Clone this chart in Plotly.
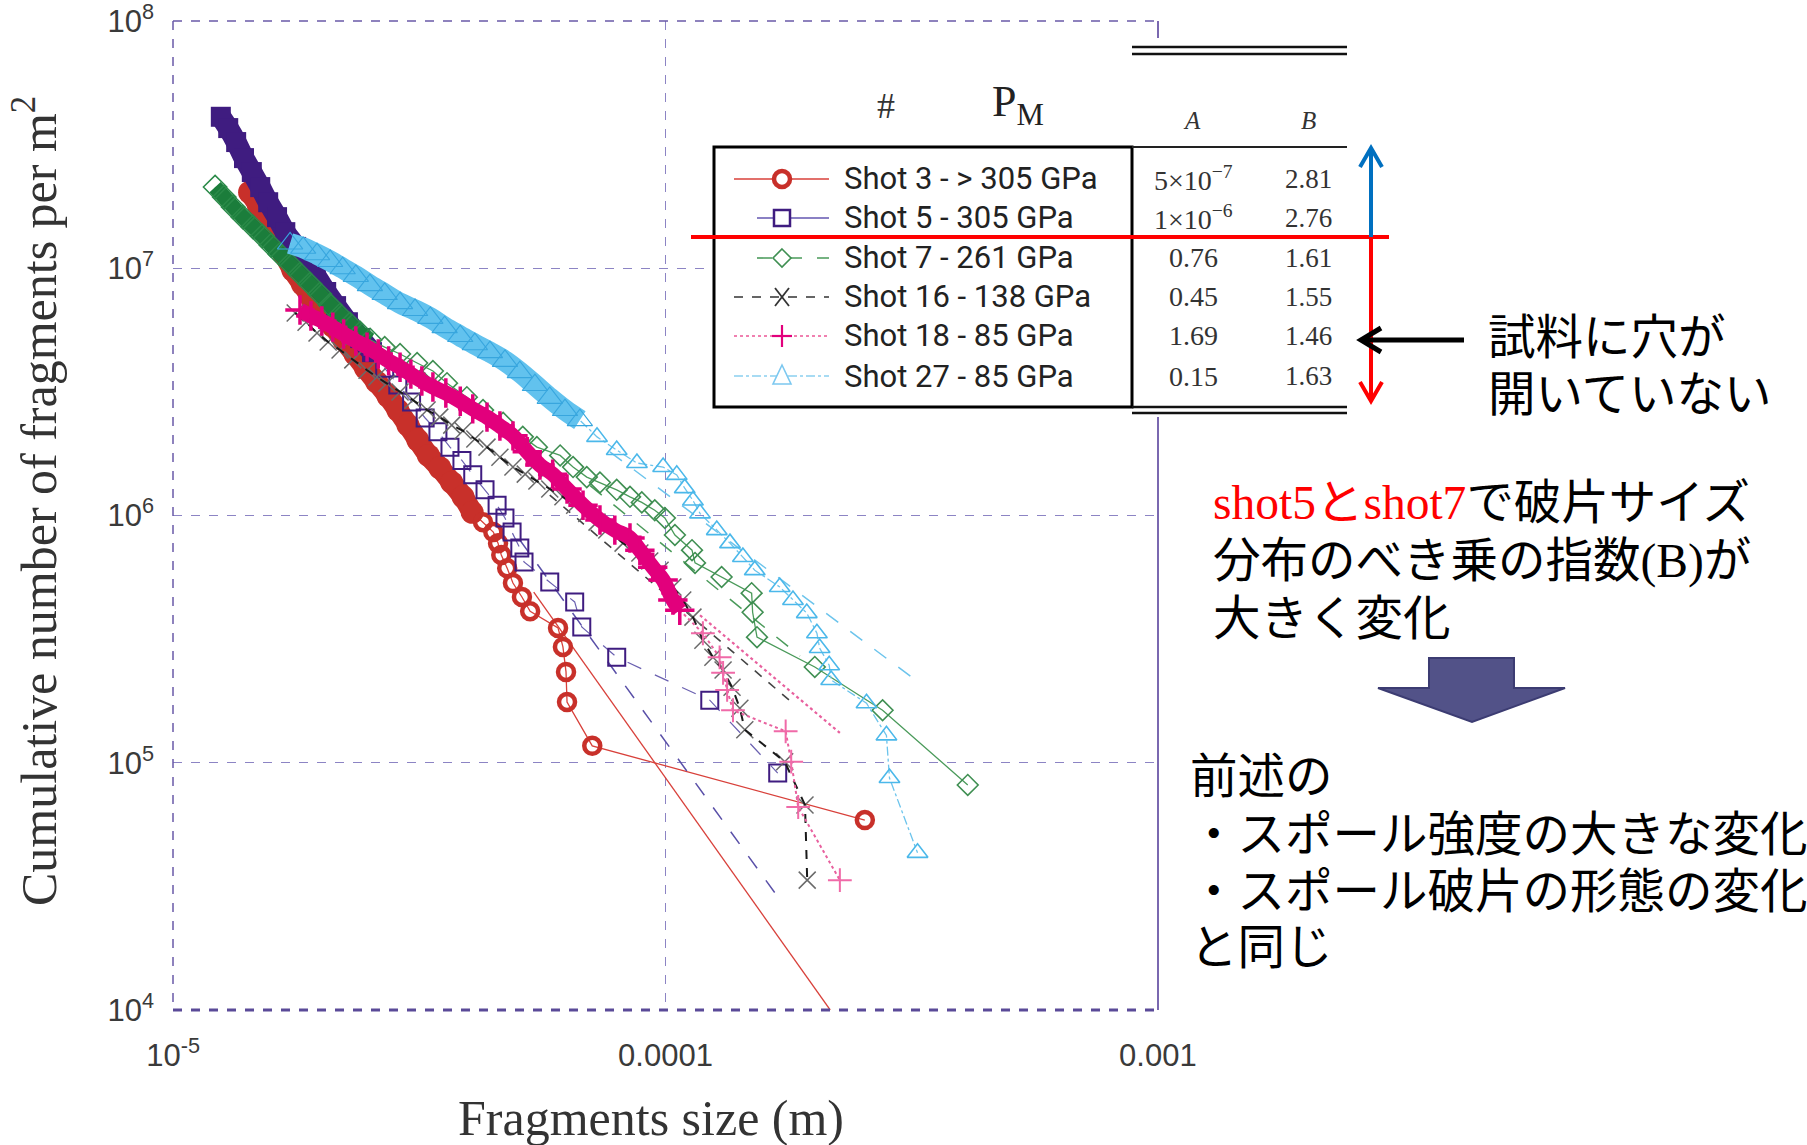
import plotly.graph_objects as go

# ---------------- data ----------------
shot3_dense_x = [1.43e-5, 1.49e-5, 1.545e-5, 1.61e-5, 1.68e-5, 1.75e-5, 1.83e-5, 1.91e-5, 2.0e-5, 2.11e-5,
                 2.22e-5, 2.34e-5, 2.46e-5, 2.59e-5, 2.73e-5, 2.86e-5, 3.0e-5, 3.14e-5, 3.3e-5, 3.48e-5,
                 3.68e-5, 3.88e-5, 4.05e-5]
shot3_dense_y = [2.03e7, 1.80e7, 1.57e7, 1.34e7, 1.14e7, 9.84e6, 8.63e6, 7.58e6, 6.65e6, 5.84e6,
                 5.13e6, 4.50e6, 3.94e6, 3.47e6, 3.04e6, 2.67e6, 2.32e6, 2.02e6, 1.75e6, 1.56e6,
                 1.36e6, 1.19e6, 1.03e6]
shot3_tail_x = [4.26e-5, 4.47e-5, 4.57e-5, 4.64e-5, 4.77e-5, 4.90e-5, 5.11e-5, 5.31e-5, 6.05e-5, 6.19e-5,
                6.28e-5, 6.31e-5, 7.10e-5, 2.54e-4]
shot3_tail_y = [9.40e5, 8.57e5, 7.73e5, 6.92e5, 6.12e5, 5.33e5, 4.68e5, 4.10e5, 3.51e5, 2.94e5,
                2.33e5, 1.76e5, 1.17e5, 5.86e4]
fit3_x = [5.4e-5, 2.16e-4]
fit3_y = [4.9e5, 1.0e4]

shot5_dense_x = [1.25e-5, 1.294e-5, 1.343e-5, 1.393e-5, 1.445e-5, 1.503e-5, 1.56e-5, 1.626e-5, 1.69e-5,
                 1.778e-5, 1.862e-5, 1.95e-5, 2.046e-5, 2.143e-5, 2.265e-5, 2.399e-5, 2.535e-5]
shot5_dense_y = [4.1e7, 3.69e7, 3.24e7, 2.79e7, 2.45e7, 2.13e7, 1.85e7, 1.61e7, 1.40e7,
                 1.22e7, 1.06e7, 9.31e6, 8.02e6, 7.03e6, 6.05e6, 5.22e6, 4.58e6]
shot5_tail_x = [2.69e-5, 2.86e-5, 3.05e-5, 3.25e-5, 3.45e-5, 3.65e-5, 3.86e-5, 4.06e-5, 4.30e-5, 4.55e-5,
                4.72e-5, 4.88e-5, 5.06e-5, 5.16e-5, 5.82e-5, 6.54e-5, 6.76e-5, 7.96e-5, 1.23e-4, 1.69e-4]
shot5_tail_y = [3.94e6, 3.37e6, 2.88e6, 2.48e6, 2.18e6, 1.89e6, 1.67e6, 1.46e6, 1.27e6, 1.10e6,
                9.77e5, 8.57e5, 7.38e5, 6.49e5, 5.38e5, 4.47e5, 3.54e5, 2.67e5, 1.79e5, 9.08e4]
fit5_x = [5.06e-5, 1.69e-4]
fit5_y = [7.96e5, 2.87e4]

shot7_dense_x = [1.217e-5, 1.27e-5, 1.324e-5, 1.387e-5, 1.453e-5, 1.517e-5, 1.581e-5, 1.648e-5, 1.728e-5,
                 1.81e-5, 1.897e-5, 1.986e-5, 2.084e-5, 2.183e-5, 2.286e-5, 2.399e-5, 2.512e-5]
shot7_dense_y = [2.13e7, 1.94e7, 1.77e7, 1.61e7, 1.47e7, 1.35e7, 1.24e7, 1.14e7, 1.04e7,
                 9.48e6, 8.63e6, 7.87e6, 7.10e6, 6.47e6, 5.95e6, 5.47e6, 5.13e6]
shot7_tail_x = [2.69e-5, 2.89e-5, 3.13e-5, 3.37e-5, 3.60e-5, 3.95e-5, 4.26e-5, 4.68e-5, 5.13e-5, 5.48e-5,
                6.11e-5, 6.49e-5, 6.92e-5, 7.36e-5, 7.96e-5, 8.47e-5, 8.95e-5, 9.51e-5, 9.97e-5, 1.045e-4,
                1.132e-4, 1.148e-4, 1.30e-4, 1.496e-4, 1.503e-4, 1.534e-4, 2.01e-4, 2.76e-4, 4.11e-4]
shot7_tail_y = [4.80e6, 4.50e6, 4.14e6, 3.84e6, 3.43e6, 3.01e6, 2.67e6, 2.37e6, 2.08e6, 1.89e6,
                1.75e6, 1.57e6, 1.43e6, 1.36e6, 1.27e6, 1.19e6, 1.13e6, 1.05e6, 9.77e5, 8.34e5,
                7.24e5, 6.43e5, 5.64e5, 4.85e5, 4.06e5, 3.22e5, 2.44e5, 1.63e5, 8.13e4]
fit7_x = [7.03e-5, 1.875e-4]
fit7_y = [1.32e6, 2.70e5]

shot16_x = [1.77e-5, 1.862e-5, 1.96e-5, 2.065e-5, 2.183e-5, 2.317e-5, 2.477e-5, 2.594e-5, 2.716e-5, 2.89e-5,
            3.07e-5, 3.28e-5, 3.48e-5, 3.68e-5, 3.88e-5, 4.10e-5, 4.34e-5, 4.61e-5, 4.90e-5, 5.19e-5,
            5.48e-5, 5.82e-5, 6.19e-5, 6.54e-5, 6.92e-5, 7.26e-5, 7.60e-5, 8.20e-5, 8.87e-5, 9.29e-5,
            9.75e-5, 1.035e-4, 1.084e-4, 1.137e-4, 1.191e-4, 1.248e-4, 1.309e-4, 1.365e-4, 1.416e-4, 1.449e-4,
            1.746e-4, 1.92e-4, 1.94e-4]
shot16_y = [6.59e6, 6.05e6, 5.47e6, 5.03e6, 4.67e6, 4.26e6, 3.87e6, 3.63e6, 3.43e6, 3.16e6,
            2.93e6, 2.67e6, 2.50e6, 2.32e6, 2.20e6, 2.04e6, 1.89e6, 1.72e6, 1.57e6, 1.47e6,
            1.38e6, 1.28e6, 1.19e6, 1.10e6, 1.02e6, 9.40e5, 8.73e5, 7.73e5, 7.05e5, 6.54e5,
            6.01e5, 5.14e5, 4.55e5, 3.88e5, 3.13e5, 2.67e5, 2.37e5, 2.02e5, 1.66e5, 1.36e5,
            1.01e5, 6.75e4, 3.35e4]
fit16_x = [5.82e-5, 1.832e-4]
fit16_y = [1.21e6, 1.71e5]

shot18_dense_x = [1.81e-5, 1.905e-5, 2.005e-5, 2.11e-5, 2.22e-5, 2.35e-5, 2.477e-5, 2.61e-5, 2.74e-5, 2.89e-5,
                  3.04e-5, 3.20e-5, 3.37e-5, 3.58e-5, 3.83e-5, 4.06e-5, 4.34e-5, 4.61e-5, 4.90e-5, 5.24e-5,
                  5.56e-5, 5.90e-5, 6.31e-5, 6.80e-5, 7.36e-5, 7.89e-5, 8.47e-5, 8.87e-5, 9.42e-5, 9.89e-5,
                  1.035e-4, 1.069e-4]
shot18_dense_y = [6.78e6, 6.41e6, 6.12e6, 5.78e6, 5.42e6, 5.08e6, 4.80e6, 4.50e6, 4.22e6, 3.98e6,
                  3.73e6, 3.50e6, 3.31e6, 3.13e6, 2.90e6, 2.70e6, 2.50e6, 2.30e6, 2.10e6, 1.81e6,
                  1.60e6, 1.47e6, 1.28e6, 1.10e6, 9.59e5, 8.73e5, 8.11e5, 7.24e5, 6.18e5, 5.48e5,
                  4.55e5, 4.14e5]
shot18_tail_x = [1.191e-4, 1.288e-4, 1.309e-4, 1.334e-4, 1.371e-4, 1.754e-4, 1.80e-4, 1.86e-4, 2.26e-4]
shot18_tail_y = [3.34e5, 2.67e5, 2.31e5, 1.97e5, 1.63e5, 1.34e5, 1.01e5, 6.62e4, 3.35e4]
fit18_x = [1.175e-4, 2.26e-4]
fit18_y = [3.95e5, 1.32e5]

shot27_dense_x = [1.728e-5, 1.837e-5, 1.96e-5, 2.084e-5, 2.21e-5, 2.35e-5, 2.51e-5, 2.69e-5, 2.89e-5, 3.10e-5,
                  3.33e-5, 3.56e-5, 3.83e-5, 4.10e-5, 4.40e-5, 4.72e-5, 5.06e-5, 5.43e-5, 5.82e-5, 6.25e-5,
                  6.70e-5]
shot27_dense_y = [1.26e7, 1.21e7, 1.14e7, 1.07e7, 1.00e7, 9.31e6, 8.55e6, 7.87e6, 7.23e6, 6.78e6,
                  6.30e6, 5.78e6, 5.32e6, 4.93e6, 4.58e6, 4.22e6, 3.80e6, 3.37e6, 2.99e6, 2.67e6,
                  2.43e6]
shot27_tail_x = [7.26e-5, 7.96e-5, 8.75e-5, 9.89e-5, 1.054e-4, 1.094e-4, 1.137e-4, 1.175e-4, 1.271e-4, 1.352e-4,
                 1.436e-4, 1.518e-4, 1.706e-4, 1.815e-4, 1.936e-4, 2.03e-4, 2.056e-4, 2.15e-4, 2.17e-4, 2.56e-4,
                 2.81e-4, 2.85e-4, 3.25e-4]
shot27_tail_y = [2.08e6, 1.84e6, 1.63e6, 1.57e6, 1.46e6, 1.29e6, 1.15e6, 1.02e6, 8.73e5, 7.73e5,
                 6.79e5, 6.01e5, 5.14e5, 4.55e5, 4.03e5, 3.34e5, 2.91e5, 2.48e5, 2.16e5, 1.74e5,
                 1.29e5, 8.67e4, 4.32e4]
fit27_x = [7.71e-5, 3.16e-4]
fit27_y = [1.81e6, 2.22e5]

x_tick_vals = [1e-5, 1e-4, 1e-3]
x_tick_text = ["10<sup>-5</sup>", "0.0001", "0.001"]
y_tick_vals = [1e4, 1e5, 1e6, 1e7, 1e8]
y_tick_text = ["10<sup>4</sup>", "10<sup>5</sup>", "10<sup>6</sup>", "10<sup>7</sup>", "10<sup>8</sup>"]

legend_labels = ["Shot 3 - > 305 GPa", "Shot 5 - 305 GPa", "Shot 7 - 261 GPa",
                 "Shot 16 - 138 GPa", "Shot 18 - 85 GPa", "Shot 27 - 85 GPa"]
table_A = ["5\u00d710<sup>\u22127</sup>", "1\u00d710<sup>\u22126</sup>", "0.76", "0.45", "1.69", "0.15"]
table_B = ["2.81", "2.76", "1.61", "1.55", "1.46", "1.63"]

# ---------------- layout helpers (pixel -> paper) ----------------
W, H = 1807, 1145
PL, PR, PT, PB = 173, 1158, 21, 1010


def fx(p):
    return p / W


def fy(p):
    return 1 - p / H


RED = "#c8302a"
PURPLE = "#3f1c80"
GREEN_D = "#1b7d3b"
GREEN = "#3f8f52"
BLACK = "#4a4a4a"
PINK = "#e2007c"
CYAN = "#4bb8ea"

fig = go.Figure()


def lines(x, y, color, width, dash):
    fig.add_trace(go.Scatter(x=x, y=y, mode="lines", line=dict(color=color, width=width, dash=dash),
                             showlegend=False, hoverinfo="skip"))


def band(x, y, color, width):
    fig.add_trace(go.Scatter(x=x, y=y, mode="lines", line=dict(color=color, width=width, shape="spline"),
                             showlegend=False, hoverinfo="skip"))


def marks(x, y, symbol, size, color, lw, lcolor=None):
    fig.add_trace(go.Scatter(x=x, y=y, mode="markers",
                             marker=dict(symbol=symbol, size=size, color=color,
                                         line=dict(width=lw, color=lcolor or color)),
                             showlegend=False, hoverinfo="skip"))


# Shot 3
lines(fit3_x, fit3_y, "#d8403a", 1.3, "solid")
lines(shot3_dense_x + shot3_tail_x, shot3_dense_y + shot3_tail_y, "#d8403a", 1.3, "solid")
band(shot3_dense_x, shot3_dense_y, RED, 21)
marks(shot3_dense_x, shot3_dense_y, "circle", 23, RED, 0)
marks(shot3_tail_x, shot3_tail_y, "circle-open", 16, RED, 4.5)
# Shot 5
lines(fit5_x, fit5_y, "#5a50a8", 1.5, "longdash")
lines(shot5_dense_x + shot5_tail_x, shot5_dense_y + shot5_tail_y, "#6a60b0", 1.2, "longdash")
band(shot5_dense_x, shot5_dense_y, PURPLE, 21)
marks(shot5_dense_x, shot5_dense_y, "square", 20, PURPLE, 0)
marks(shot5_tail_x, shot5_tail_y, "square-open", 17, PURPLE, 2)
# Shot 7
lines(fit7_x, fit7_y, "#4a9a5a", 1.5, "longdash")
lines(shot7_dense_x + shot7_tail_x, shot7_dense_y + shot7_tail_y, "#4a9a5a", 1.3, "solid")
band(shot7_dense_x, shot7_dense_y, GREEN_D, 15)
marks(shot7_dense_x, shot7_dense_y, "diamond-open", 18, "#2a8a48", 1.5)
marks(shot7_tail_x, shot7_tail_y, "diamond-open", 16, GREEN, 1.6)
# Shot 16
lines(fit16_x, fit16_y, "#444444", 1.6, "dash")
marks(shot16_x, shot16_y, "x-thin-open", 17, "#6a6a6a", 1.5)
lines(shot16_x, shot16_y, "#1a1a1a", 2, "dash")
# Shot 18
lines(fit18_x, fit18_y, "#e8609e", 2.2, "dot")
lines(shot18_dense_x + shot18_tail_x, shot18_dense_y + shot18_tail_y, "#e8609e", 2, "dot")
band(shot18_dense_x, shot18_dense_y, PINK, 15)
marks(shot18_dense_x, shot18_dense_y, "cross-thin-open", 21, PINK, 3.5)
marks(shot18_tail_x, shot18_tail_y, "cross-thin-open", 17, "#f06aa8", 2)
# Shot 27
lines(fit27_x, fit27_y, "#6cc4ec", 1.5, "longdash")
lines(shot27_dense_x + shot27_tail_x, shot27_dense_y + shot27_tail_y, "#6cc4ec", 1.3, "dashdot")
band(shot27_dense_x, shot27_dense_y, "#62c2ee", 21)
marks(shot27_dense_x, shot27_dense_y, "triangle-up-open", 22, "#38a6de", 1.1)
marks(shot27_tail_x, shot27_tail_y, "triangle-up-open", 18, CYAN, 1.6)

shapes = []


def seg(x0, y0, x1, y1, color, width, dash="solid"):
    shapes.append(dict(type="line", xref="paper", yref="paper", x0=fx(x0), y0=fy(y0), x1=fx(x1), y1=fy(y1),
                       line=dict(color=color, width=width, dash=dash), layer="above"))


def path(pts, color, width, fill=None, closed=False):
    d = "M " + " L ".join(f"{fx(a):.5f},{fy(b):.5f}" for a, b in pts)
    if closed:
        d += " Z"
    shapes.append(dict(type="path", xref="paper", yref="paper", path=d,
                       line=dict(color=color, width=width),
                       fillcolor=fill if fill else "rgba(0,0,0,0)", layer="above"))


# plot frame
seg(PL, PT, PL, PB, "#6a5aa8", 1.5, "dash")
seg(PL, PT, PR, PT, "#6a5aa8", 1.5, "dash")
seg(PR, PT, PR, PB, "#7a68b0", 2, "solid")
seg(PL, PB, PR, PB, "#5a4a98", 3, "dash")

# white panel behind the table
shapes.append(dict(type="rect", xref="paper", yref="paper", x0=fx(712), x1=fx(1352), y0=fy(38), y1=fy(417),
                   fillcolor="white", line=dict(width=0), layer="above"))
# table frame
shapes.append(dict(type="rect", xref="paper", yref="paper", x0=fx(714), x1=fx(1132), y0=fy(147), y1=fy(407),
                   line=dict(color="black", width=3), fillcolor="rgba(0,0,0,0)", layer="above"))
seg(1132, 147, 1347, 147, "#222", 2)
seg(1132, 47, 1347, 47, "#111", 2.5)
seg(1132, 54, 1347, 54, "#111", 2.5)
seg(1132, 407, 1347, 407, "#111", 2.5)
seg(1132, 413, 1347, 413, "#111", 2.5)

rows_y = [179, 218, 258, 297, 336, 376]
MX = 782
# legend sample lines
seg(734, rows_y[0], 829, rows_y[0], "#d8403a", 1.5)
seg(757, rows_y[1], 829, rows_y[1], "#8a80c4", 2)
seg(757, rows_y[2], 829, rows_y[2], "#4a9a5a", 1.6, "longdash")
seg(734, rows_y[3], 829, rows_y[3], "#333", 1.6, "dash")
seg(734, rows_y[4], 829, rows_y[4], "#f080b0", 2, "dot")
seg(734, rows_y[5], 829, rows_y[5], "#8ad0f0", 1.6, "dashdot")
# legend sample markers
r = rows_y[0]
shapes.append(dict(type="circle", xref="paper", yref="paper", x0=fx(MX - 8), x1=fx(MX + 8), y0=fy(r - 8), y1=fy(r + 8),
                   line=dict(color=RED, width=4.5), fillcolor="white", layer="above"))
r = rows_y[1]
path([(MX - 8, r - 8), (MX + 8, r - 8), (MX + 8, r + 8), (MX - 8, r + 8)], PURPLE, 2.5, "white", True)
r = rows_y[2]
path([(MX, r - 9), (MX + 9, r), (MX, r + 9), (MX - 9, r)], GREEN, 1.6, "white", True)
r = rows_y[3]
path([(MX - 7, r - 9), (MX + 7, r + 9)], "#333", 1.8)
path([(MX + 7, r - 9), (MX - 7, r + 9)], "#333", 1.8)
r = rows_y[4]
path([(MX - 10, r), (MX + 10, r)], PINK, 2.2)
path([(MX, r - 11), (MX, r + 11)], PINK, 2.2)
r = rows_y[5]
path([(MX, r - 11), (MX + 9, r + 8), (MX - 9, r + 8)], "#7cc8f0", 1.6, "white", True)

# red separator line and arrows
seg(691, 237, 1389, 237, "#ff0000", 4)
seg(1371, 237, 1371, 149, "#0070c0", 4)
path([(1360, 167), (1371, 148), (1382, 167)], "#0070c0", 4)
seg(1371, 237, 1371, 400, "#ff0000", 4)
path([(1360, 382), (1371, 401), (1382, 382)], "#ff0000", 4)
seg(1464, 340, 1362, 340, "black", 5)
path([(1381, 328), (1361, 340), (1381, 352)], "black", 5)

# block arrow
path([(1429, 658), (1514, 658), (1514, 688), (1565, 688), (1472, 722), (1378, 688), (1429, 688)],
     "#3c3c72", 2, "#525288", True)

ann = []


def text(x, y, s, size, color="black", family="Liberation Serif, serif", xanchor="left", angle=0):
    ann.append(dict(x=fx(x), y=fy(y), xref="paper", yref="paper", text=s, showarrow=False,
                    xanchor=xanchor, yanchor="middle", textangle=angle,
                    font=dict(size=size, color=color, family=family)))


LEGF = "Liberation Sans Narrow, Roboto, sans-serif"
for yy, lab, a, b in zip(rows_y, legend_labels, table_A, table_B):
    text(842, yy, lab, 31, "#222", LEGF)
    text(1193, yy, a, 28, "#333", "Liberation Serif, serif", "center")
    text(1308, yy, b, 27, "#333", "Liberation Serif, serif", "center")

text(886, 106, "#", 36, "#333", "Liberation Serif, serif", "center")
text(990, 104, "P<sub>M</sub>", 44, "#222", "Liberation Serif, serif", "left")
text(1192, 121, "<i>A</i>", 25, "#333", "Liberation Serif, serif", "center")
text(1308, 121, "<i>B</i>", 25, "#333", "Liberation Serif, serif", "center")

# axis titles
text(35, 501, "Cumulative number of fragments per m<sup>2</sup>", 50, "#333", "Liberation Serif, serif", "center", -90)
text(651, 1118, "Fragments size (m)", 50, "#333", "Liberation Serif, serif", "center")

JP = "Liberation Serif, Noto Sans CJK JP, serif"
JS = 47.5
text(1486, 338, "試料に穴が", JS, "black", JP)
text(1486, 395, "開いていない", JS, "black", JP)
text(1211, 503, "<span style='color:#ff0000'>shot5とshot7</span>で破片サイズ", JS, "black", JP)
text(1211, 561, "分布のべき乗の指数(B)が", JS, "black", JP)
text(1211, 619, "大きく変化", JS, "black", JP)
text(1188, 777, "前述の", JS, "black", JP)
text(1188, 835, "・スポール強度の大きな変化", JS, "black", JP)
text(1188, 892, "・スポール破片の形態の変化", JS, "black", JP)
text(1188, 948, "と同じ", JS, "black", JP)

TICKF = dict(family="Liberation Sans, sans-serif", size=31, color="#3a3a3a")
fig.update_layout(
    width=W, height=H,
    margin=dict(l=0, r=0, t=0, b=0, autoexpand=False),
    paper_bgcolor="white", plot_bgcolor="white",
    xaxis=dict(type="log", range=[-5.0002, -2.9998], domain=[fx(PL), fx(PR)], automargin=False,
               tickvals=x_tick_vals, ticktext=x_tick_text, tickfont=TICKF, ticklabeloverflow="allow",
               showgrid=True, gridcolor="#8c84c4", griddash="dash", gridwidth=1.4,
               zeroline=False, showline=False, ticks="", ticklabelstandoff=24),
    yaxis=dict(type="log", range=[3.9998, 8.0002], domain=[fy(PB), fy(PT)], automargin=False,
               tickvals=y_tick_vals, ticktext=y_tick_text, tickfont=TICKF, ticklabeloverflow="allow",
               showgrid=True, gridcolor="#8c84c4", griddash="dash", gridwidth=1.4,
               zeroline=False, showline=False, ticks="", ticklabelstandoff=18),
    shapes=shapes,
    annotations=ann,
    showlegend=False,
)

fig.write_html("out.html")
